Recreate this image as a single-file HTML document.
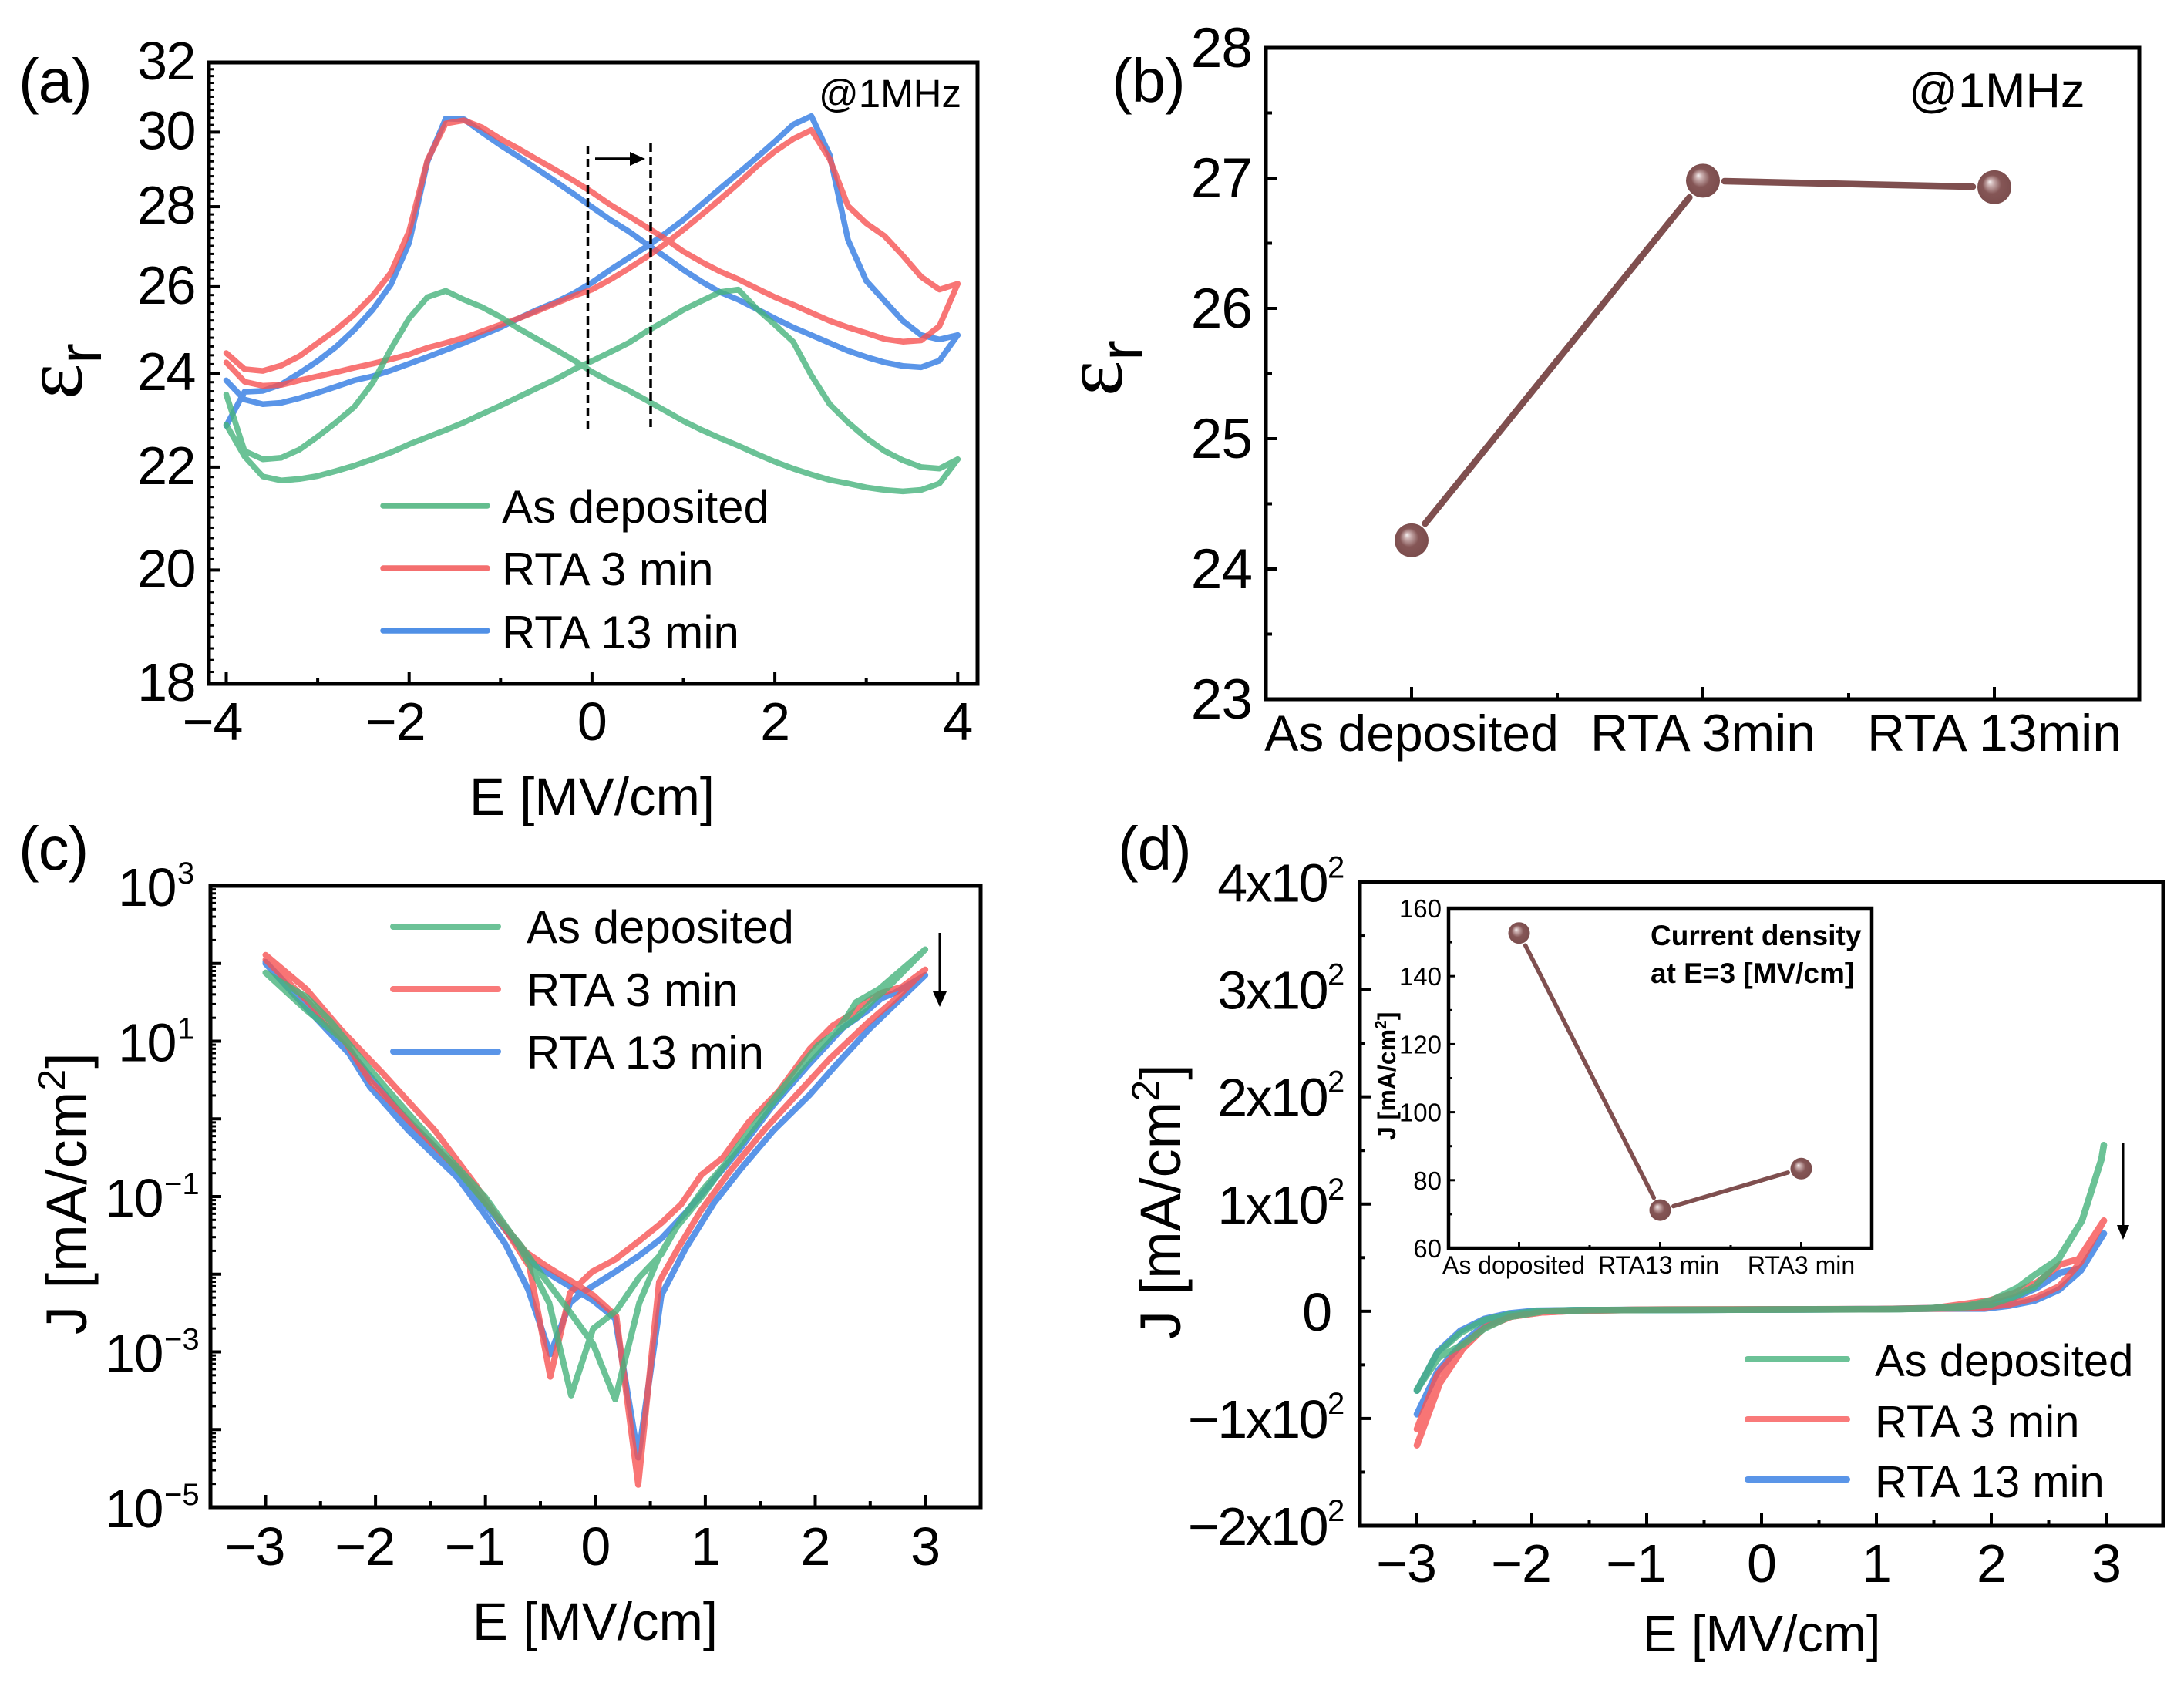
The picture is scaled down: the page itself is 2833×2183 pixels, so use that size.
<!DOCTYPE html>
<html lang="en">
<head>
<meta charset="utf-8">
<title>Dielectric and leakage characteristics</title>
<style>
html,body{margin:0;padding:0;background:#fff;}
svg{display:block;}
text{font-family:"Liberation Sans",sans-serif;fill:#000;}
.sym{font-family:"Liberation Serif",serif;}
</style>
</head>
<body>
<svg id="figure" xmlns="http://www.w3.org/2000/svg" width="2833" height="2183" viewBox="0 0 2833 2183">
<defs>
<radialGradient id="ball" cx="0.5" cy="0.5" r="0.55" fx="0.36" fy="0.34">
<stop offset="0" stop-color="#f4eeee"/>
<stop offset="0.18" stop-color="#c9adad"/>
<stop offset="0.5" stop-color="#855656"/>
<stop offset="1" stop-color="#7a4c4c"/>
</radialGradient>
</defs>
<rect width="2833" height="2183" fill="#fff"/>

<g id="panelA"></g>
<g id="panelB"></g>
<g id="panelC"></g>
<g id="panelD"></g>
<g id="panelInset"></g>

<!-- panel letters -->
<text x="24" y="132" font-size="80" letter-spacing="-1">(a)</text>
<text x="1442" y="132" font-size="80" letter-spacing="-1">(b)</text>
<text x="24" y="1128" font-size="80" letter-spacing="-1">(c)</text>
<text x="1450" y="1128" font-size="80" letter-spacing="-1">(d)</text>

<!-- panel a annotations -->
<text x="768" y="1057" font-size="69" text-anchor="middle">E [MV/cm]</text>
<text class="sym" transform="translate(106,518) rotate(-90)" font-size="110">ε<tspan font-family="Liberation Sans" font-size="80" dy="25">r</tspan></text>
<text x="1062" y="139" font-size="51">@1MHz</text>
<line x1="497" y1="656" x2="632" y2="656" stroke="#64bd8e" stroke-width="7.5" stroke-linecap="round"/>
<line x1="497" y1="737" x2="632" y2="737" stroke="#f46f6f" stroke-width="7.5" stroke-linecap="round"/>
<line x1="497" y1="818" x2="632" y2="818" stroke="#5090e6" stroke-width="7.5" stroke-linecap="round"/>
<text x="651" y="678" font-size="60">As deposited</text>
<text x="651" y="759" font-size="60">RTA 3 min</text>
<text x="651" y="841" font-size="60">RTA 13 min</text>
<line x1="762.5" y1="189" x2="762.5" y2="558" stroke="#000" stroke-width="3.5" stroke-dasharray="11 6"/>
<line x1="844" y1="186" x2="844" y2="556" stroke="#000" stroke-width="3.5" stroke-dasharray="11 6"/>
<line x1="772" y1="206" x2="820" y2="206" stroke="#000" stroke-width="3.5"/>
<polygon points="817,197 837,206 817,215" fill="#000"/>

<!-- panel b annotations -->
<text class="sym" transform="translate(1455,514) rotate(-90)" font-size="110">ε<tspan font-family="Liberation Sans" font-size="80" dy="27">r</tspan></text>
<text x="2476" y="139" font-size="63">@1MHz</text>

<!-- panel c annotations -->
<text x="772" y="2127" font-size="69" text-anchor="middle">E [MV/cm]</text>
<text transform="translate(112,1731) rotate(-90)" font-size="74" letter-spacing="1">J [mA/cm<tspan font-size="50" dy="-28">2</tspan><tspan dy="28">]</tspan></text>
<line x1="510" y1="1202" x2="646" y2="1202" stroke="#6cc297" stroke-width="8" stroke-linecap="round"/>
<line x1="510" y1="1283" x2="646" y2="1283" stroke="#f97a7a" stroke-width="8" stroke-linecap="round"/>
<line x1="510" y1="1364" x2="646" y2="1364" stroke="#5a95e8" stroke-width="8" stroke-linecap="round"/>
<text x="683" y="1223" font-size="60">As deposited</text>
<text x="683" y="1305" font-size="60">RTA 3 min</text>
<text x="683" y="1386" font-size="60">RTA 13 min</text>
<line x1="1219" y1="1210" x2="1219" y2="1290" stroke="#000" stroke-width="3"/>
<polygon points="1210,1286 1228,1286 1219,1306" fill="#000"/>

<!-- panel d annotations -->
<text x="2285" y="2142" font-size="67" text-anchor="middle">E [MV/cm]</text>
<text transform="translate(1531,1737) rotate(-90)" font-size="74">J [mA/cm<tspan font-size="50" dy="-28">2</tspan><tspan dy="28">]</tspan></text>
<line x1="2267" y1="1763" x2="2396" y2="1763" stroke="#6cc297" stroke-width="8" stroke-linecap="round"/>
<line x1="2267" y1="1841" x2="2396" y2="1841" stroke="#f97a7a" stroke-width="8" stroke-linecap="round"/>
<line x1="2267" y1="1919" x2="2396" y2="1919" stroke="#5a95e8" stroke-width="8" stroke-linecap="round"/>
<text x="2432" y="1785" font-size="58">As deposited</text>
<text x="2432" y="1864" font-size="58">RTA 3 min</text>
<text x="2432" y="1942" font-size="58">RTA 13 min</text>
<line x1="2754" y1="1482" x2="2754" y2="1592" stroke="#000" stroke-width="3"/>
<polygon points="2746,1589 2762,1589 2754,1608" fill="#000"/>

<!-- inset annotations -->
<text x="2141" y="1226" font-size="37" font-weight="bold">Current density</text>
<text x="2141" y="1275" font-size="37" font-weight="bold">at E=3 [MV/cm]</text>
<text transform="translate(1810,1479) rotate(-90)" font-size="32" font-weight="bold">J [mA/cm<tspan font-size="21" dy="-12">2</tspan><tspan dy="12">]</tspan></text>
</svg>

<script>
/* ---------- panel (a) data ---------- */
const aXTickLabels = [-4, -2, 0, 2, 4];
const aYTickLabels = [18, 20, 22, 24, 26, 28, 30, 32];
const aField = [-4,-3.8,-3.6,-3.4,-3.2,-3,-2.8,-2.6,-2.4,-2.2,-2,-1.8,-1.6,-1.4,-1.2,-1,-0.8,-0.6,-0.4,-0.2,0,0.2,0.4,0.6,0.8,1,1.2,1.4,1.6,1.8,2,2.2,2.4,2.6,2.8,3,3.2,3.4,3.6,3.8,4];

const aGreen1Eps = [23.53,22.33,22.16,22.19,22.36,22.63,22.93,23.26,23.78,24.54,25.25,25.75,25.9,25.69,25.51,25.28,25.01,24.77,24.53,24.29,24.03,23.81,23.62,23.4,23.18,22.96,22.77,22.6,22.44,22.27,22.11,21.97,21.85,21.74,21.67,21.59,21.54,21.51,21.54,21.67,22.16];
const aGreen2Eps = [22.88,22.22,21.81,21.73,21.76,21.82,21.92,22.03,22.16,22.3,22.47,22.62,22.77,22.93,23.11,23.29,23.48,23.67,23.86,24.08,24.27,24.47,24.68,24.95,25.19,25.45,25.66,25.87,25.93,25.48,25.1,24.71,23.95,23.32,22.93,22.6,22.33,22.14,22,21.97,22.16];
const aRed1Eps = [24.45,24.09,24.05,24.17,24.38,24.68,24.98,25.34,25.78,26.34,27.37,29.23,30.24,30.33,30.13,29.81,29.54,29.25,28.97,28.68,28.38,28.05,27.76,27.47,27.18,26.86,26.6,26.37,26.18,25.96,25.75,25.57,25.38,25.19,25.04,24.91,24.77,24.71,24.74,25.07,26.07];
const aRed2Eps = [24.24,23.81,23.72,23.74,23.84,23.93,24.02,24.12,24.21,24.31,24.42,24.57,24.68,24.8,24.95,25.1,25.25,25.42,25.6,25.78,25.93,26.17,26.44,26.73,27.05,27.41,27.79,28.19,28.61,29.06,29.47,29.81,30.06,29.26,28.02,27.57,27.25,26.76,26.24,25.93,26.07];
const aBlue1Eps = [22.86,23.59,23.61,23.75,24,24.27,24.59,24.98,25.45,26.05,27.08,29.19,30.38,30.36,29.99,29.64,29.32,28.99,28.66,28.33,27.99,27.66,27.37,27.04,26.73,26.41,26.12,25.87,25.69,25.47,25.25,25.04,24.86,24.68,24.5,24.36,24.24,24.16,24.13,24.28,24.86];
const aBlue2Eps = [23.84,23.42,23.32,23.35,23.45,23.57,23.7,23.84,23.93,24.06,24.21,24.36,24.52,24.68,24.86,25.04,25.25,25.45,25.63,25.84,26.1,26.41,26.7,26.99,27.31,27.66,28.06,28.47,28.88,29.3,29.74,30.21,30.45,29.37,27.15,26.14,25.66,25.19,24.86,24.76,24.86];

/* ---------- panel (b) data ---------- */
const bCategories = ["As deposited", "RTA 3min", "RTA 13min"];
const bValues = [24.22, 26.98, 26.93];
const bYTickLabels = [23, 24, 25, 26, 27, 28];

/* ---------- panel (c) data: log10 of J ---------- */
const cXTickLabels = [-3, -2, -1, 0, 1, 2, 3];
const cYExponents = [3, 1, -1, -3, -5];

const cGreen1E = [-3,-2.63,-2.4,-2.17,-1.81,-1.35,-1,-0.72,-0.6,-0.42,-0.22,-0.02,0.19,0.4,0.6,0.76,0.98,1.2,1.6,1.93,2.2,2.3,2.37,2.58,3];
const cGreen1LogJ = [1.88,1.57,1.24,0.84,0.24,-0.48,-1.01,-1.57,-1.87,-2.37,-3.56,-2.7,-2.47,-2.04,-1.74,-1.34,-0.91,-0.55,0.18,0.74,1.14,1.34,1.5,1.67,2.18];
const cGreen2E = [-3,-2.63,-2.28,-1.93,-1.46,-1,-0.69,-0.47,-0.24,-0.02,0.18,0.4,0.58,0.73,0.98,1.32,1.67,2.02,2.37,2.53,2.65,3];
const cGreen2LogJ = [1.88,1.4,1,0.44,-0.32,-1.08,-1.61,-2.04,-2.47,-2.9,-3.61,-2.37,-1.77,-1.41,-0.98,-0.31,0.34,0.94,1.3,1.53,1.68,2.18];

const cRed1E = [-3,-2.63,-2.31,-1.93,-1.46,-1.09,-0.82,-0.6,-0.41,-0.23,-0.03,0.18,0.4,0.6,0.78,0.965,1.16,1.39,1.67,1.95,2.16,2.32,2.49,2.6,2.79,3];
const cRed1LogJ = [2.11,1.67,1.14,0.58,-0.15,-0.85,-1.42,-1.9,-3.32,-2.24,-1.97,-1.81,-1.57,-1.34,-1.1,-0.72,-0.5,-0.05,0.36,0.9,1.2,1.34,1.53,1.62,1.7,1.92];
const cRed2E = [-3,-2.63,-2.28,-2.05,-1.7,-1.23,-0.88,-0.63,-0.42,-0.21,-0.02,0.19,0.39,0.58,0.75,0.96,1.22,1.55,1.85,2.13,2.48,2.72,3];
const cRed2LogJ = [2.05,1.53,1,0.49,-0.02,-0.68,-1.28,-1.72,-1.92,-2.1,-2.27,-2.54,-4.71,-2.1,-1.67,-1.18,-0.68,-0.12,0.34,0.77,1.24,1.53,1.92];

const cBlue1E = [-3,-2.63,-2.24,-2.05,-1.7,-1.25,-0.95,-0.82,-0.61,-0.41,-0.23,-0.13,0.18,0.4,0.6,0.82,0.96,1.32,1.62,1.93,2.25,2.48,2.6,2.72,3];
const cBlue1LogJ = [2,1.43,0.84,0.41,-0.15,-0.76,-1.34,-1.61,-2.2,-3.03,-2.37,-2.25,-1.97,-1.76,-1.54,-1.21,-0.98,-0.38,0.18,0.68,1.17,1.4,1.55,1.62,1.85];
const cBlue2E = [-3,-2.63,-2.24,-2.05,-1.7,-1.25,-0.95,-0.75,-0.56,-0.37,-0.02,0.18,0.39,0.6,0.82,1.08,1.32,1.62,1.95,2.2,2.48,3];
const cBlue2LogJ = [2.02,1.46,0.88,0.55,-0.05,-0.66,-1.2,-1.55,-1.87,-2.04,-2.34,-2.57,-4.36,-2.27,-1.67,-1.08,-0.65,-0.15,0.31,0.71,1.14,1.85];

/* ---------- panel (d) data ---------- */
const dXTickLabels = [-3, -2, -1, 0, 1, 2, 3];
const dYMultipliers = [4, 3, 2, 1, 0, -1, -2];

const dGreen1E = [-3,-2.83,-2.62,-2.41,-2.2,-1.96,-1.63,1.2,1.44,1.8,2,2.23,2.38,2.58,2.79,2.96,2.98];
const dGreen1J = [-74,-40,-20,-8,-3,0,1,2,2.7,5.3,10,22,34,48.5,84.5,142,155];
const dGreen2E = [-3,-2.81,-2.6,-2.41,-2.2,-1.9,-1.5,1.1,1.44,1.8,2,2.2,2.38,2.56,2.79,2.96,2.98];
const dGreen2J = [-73,-43,-31,-16,-5.4,0,1,2,2.5,4,6.5,13.7,23,43.7,84.5,142,155];

const dRed1E = [-3,-2.8,-2.6,-2.41,-2.18,-1.91,-1.63,-1,1,1.5,1.98,2.2,2.4,2.6,2.76,2.98];
const dRed1J = [-125,-67,-35,-15,-5,-1,0.5,1.5,2,3,10,17,27,43.7,48.5,84.5];
const dRed2E = [-3,-2.82,-2.63,-2.41,-2.18,-1.91,-1.6,-1,1,1.5,1.89,2.16,2.38,2.59,2.78,2.98];
const dRed2J = [-110,-59,-35,-15,-5,-1,0.5,1.5,2,2.5,3,6.5,12.5,23,46,84.5];

const dBlue1E = [-3,-2.82,-2.62,-2.41,-2.2,-1.96,-1.6,1,1.5,1.98,2.2,2.4,2.6,2.78,2.98];
const dBlue1J = [-74,-38,-18,-7,-2,0.5,1,2,3,6.5,12.5,22,36,40,72.5];
const dBlue2E = [-3,-2.82,-2.6,-2.41,-2.2,-1.96,-1.6,1,1.5,1.94,2.16,2.38,2.59,2.78,2.98];
const dBlue2J = [-96,-56,-29,-13,-4,0,1,2,2.5,2.5,5.3,10,20,38,72.5];

/* ---------- inset data ---------- */
const insetCategories = ["As doposited", "RTA13 min", "RTA3 min"];
const insetValues = [152.7, 71.2, 83.4];
const insetYTickLabels = [60, 80, 100, 120, 140, 160];

/* ---------- drawing helpers ---------- */
const SVG_NS = "http://www.w3.org/2000/svg";
const GREEN = "#47b37d", RED = "#f75353", BLUE = "#5a95e8";
const SERIES_ALPHA = 0.8;

function make(parent, tag, attrs) {
  const node = document.createElementNS(SVG_NS, tag);
  for (const key in attrs) node.setAttribute(key, attrs[key]);
  parent.appendChild(node);
  return node;
}

function minusText(v) {
  return String(v).replace("-", "\u2212");
}

function seriesGroup(parent, opacity, name) {
  const group = make(parent, "g", {opacity: opacity});
  
  
  return group;
}

function drawFrame(parent, left, top, right, bottom, width, name) {
  const frame = make(parent, "rect", {x: left, y: top, width: right - left, height: bottom - top, fill: "none", stroke: "#000", "stroke-width": width});
  
  
}

function drawTick(parent, x1, y1, x2, y2, width, name) {
  const tick = make(parent, "line", {x1: x1, y1: y1, x2: x2, y2: y2, stroke: "#000", "stroke-width": width});
  
  
}

function drawLabel(parent, x, y, size, anchor, content, name, spacing) {
  const label = make(parent, "text", {x: x, y: y, "font-size": size, "text-anchor": anchor, "letter-spacing": spacing || 0});
  label.textContent = content;
  
  
}

function drawCurve(parent, xs, ys, xAxis, yAxis, color, width, name) {
  const pts = xs.map((v, i) => xAxis(v).toFixed(1) + "," + yAxis(ys[i]).toFixed(1)).join(" ");
  const curve = make(parent, "polyline", {points: pts, fill: "none", stroke: color, "stroke-width": width, "stroke-linejoin": "round", "stroke-linecap": "round"});
  
  
}

function drawConnector(parent, x1, y1, x2, y2, gap, width, name) {
  const len = Math.hypot(x2 - x1, y2 - y1);
  const ux = (x2 - x1) / len, uy = (y2 - y1) / len;
  const seg = make(parent, "line", {x1: x1 + ux * gap, y1: y1 + uy * gap, x2: x2 - ux * gap, y2: y2 - uy * gap, stroke: "#7f4f4f", "stroke-width": width, "stroke-linecap": "round"});
  
  
}

function drawBall(parent, x, y, r, name) {
  const ball = make(parent, "circle", {cx: x, cy: y, r: r, fill: "url(#ball)"});
  
  
}

/* ---------- panel (a) ---------- */
(function () {
  const g = document.getElementById("panelA");
  const L = 271, R = 1268, T = 81, B = 887;
  const xA = e => 293.5 + (e + 4) * 118.6;
  const yA = v => T + (Math.log(32) - Math.log(v)) / (Math.log(32) - Math.log(18)) * (B - T);

  const blue = seriesGroup(g, 1, "rta-13-series");
  drawCurve(blue, aField, aBlue1Eps, xA, yA, BLUE, 7.5, "rta-13-sweep-1");
  drawCurve(blue, aField, aBlue2Eps, xA, yA, BLUE, 7.5, "rta-13-sweep-2");
  const red = seriesGroup(g, SERIES_ALPHA, "rta-3-series");
  drawCurve(red, aField, aRed1Eps, xA, yA, RED, 7.5, "rta-3-sweep-1");
  drawCurve(red, aField, aRed2Eps, xA, yA, RED, 7.5, "rta-3-sweep-2");
  const green = seriesGroup(g, SERIES_ALPHA, "as-deposited-series");
  drawCurve(green, aField, aGreen1Eps, xA, yA, GREEN, 7.5, "as-deposited-sweep-1");
  drawCurve(green, aField, aGreen2Eps, xA, yA, GREEN, 7.5, "as-deposited-sweep-2");

  for (let n = 0; n <= 70; n++) {
    const v = 18 + n * 0.2;
    const major = n % 10 === 0;
    drawTick(g, L, yA(v), L + (major ? 14 : 7), yA(v), major ? 4 : 3, "a-y-tick");
  }
  aYTickLabels.forEach(v => drawLabel(g, 253, yA(v) + 22, 70, "end", String(v), "a-y-tick-label", -1.5));
  for (let e = -4; e <= 4; e++) {
    const major = e % 2 === 0;
    drawTick(g, xA(e), B, xA(e), B - (major ? 16 : 8), 4, "a-x-tick");
  }
  aXTickLabels.forEach(e => drawLabel(g, xA(e) - (e < 0 ? 18 : 0), 960, 70, "middle", minusText(e), "a-x-tick-label", -1));
  drawFrame(g, L, T, R, B, 5, "a-plot-frame");
})();

/* ---------- panel (b) ---------- */
(function () {
  const g = document.getElementById("panelB");
  const L = 1642, R = 2775, T = 62, B = 907;
  const xB = i => 1831 + i * 378;
  const yB = v => B - (v - 23) * (B - T) / 5;

  for (let i = 0; i < bValues.length - 1; i++) {
    drawConnector(g, xB(i), yB(bValues[i]), xB(i + 1), yB(bValues[i + 1]), 28, 8.5, "b-connector-line");
  }
  for (let i = 0; i < bValues.length; i++) {
    drawBall(g, xB(i), yB(bValues[i]), 22, "b-data-point");
  }
  for (let n = 0; n <= 10; n++) {
    const v = 23 + n * 0.5;
    const major = n % 2 === 0;
    drawTick(g, L, yB(v), L + (major ? 14 : 8), yB(v), 4, "b-y-tick");
  }
  bYTickLabels.forEach(v => drawLabel(g, 1624, yB(v) + 25, 73, "end", String(v), "b-y-tick-label", -1));
  for (let n = 0; n <= 4; n++) {
    const major = n % 2 === 0;
    drawTick(g, xB(n / 2), B, xB(n / 2), B - (major ? 16 : 8), 4, "b-x-tick");
  }
  bCategories.forEach((c, i) => drawLabel(g, xB(i), 974, i === 0 ? 66 : 68, "middle", c, "b-x-tick-label"));
  drawFrame(g, L, T, R, B, 5, "b-plot-frame");
})();

/* ---------- panel (c) ---------- */
(function () {
  const g = document.getElementById("panelC");
  const L = 273, R = 1272, T = 1149, B = 1955;
  const xC = e => 344.5 + (e + 3) * 142.6;
  const yC = v => T + (3 - v) * (B - T) / 8;

  const blue = seriesGroup(g, 1, "rta-13-series");
  drawCurve(blue, cBlue1E, cBlue1LogJ, xC, yC, BLUE, 8, "rta-13-sweep-1");
  drawCurve(blue, cBlue2E, cBlue2LogJ, xC, yC, BLUE, 8, "rta-13-sweep-2");
  const red = seriesGroup(g, SERIES_ALPHA, "rta-3-series");
  drawCurve(red, cRed1E, cRed1LogJ, xC, yC, RED, 8, "rta-3-sweep-1");
  drawCurve(red, cRed2E, cRed2LogJ, xC, yC, RED, 8, "rta-3-sweep-2");
  const green = seriesGroup(g, SERIES_ALPHA, "as-deposited-series");
  drawCurve(green, cGreen1E, cGreen1LogJ, xC, yC, GREEN, 8, "as-deposited-sweep-1");
  drawCurve(green, cGreen2E, cGreen2LogJ, xC, yC, GREEN, 8, "as-deposited-sweep-2");

  for (let d = -5; d <= 3; d++) {
    drawTick(g, L, yC(d), L + 14, yC(d), 4, "c-y-major-tick");
    if (d < 3) {
      for (let m = 2; m <= 9; m++) {
        drawTick(g, L, yC(d + Math.log10(m)), L + 7, yC(d + Math.log10(m)), 3, "c-y-minor-tick");
      }
    }
  }
  cYExponents.forEach(p => {
    const base = p < 0 ? 211 : 228;
    drawLabel(g, base, yC(p) + 26, 70, "end", "10", "c-y-tick-label", -1.5);
    drawLabel(g, base + 2, yC(p) - 3, 40, "start", minusText(p), "c-y-tick-exponent");
  });
  for (let n = -6; n <= 6; n++) {
    const major = n % 2 === 0;
    drawTick(g, xC(n / 2), B, xC(n / 2), B - (major ? 16 : 8), 4, "c-x-tick");
  }
  cXTickLabels.forEach(e => drawLabel(g, xC(e) - (e < 0 ? 14 : 0), 2030, 70, "middle", minusText(e), "c-x-tick-label", -1));
  drawFrame(g, L, T, R, B, 5, "c-plot-frame");
})();

/* ---------- panel (d) ---------- */
(function () {
  const g = document.getElementById("panelD");
  const L = 1764, R = 2806, T = 1144.5, B = 1979;
  const xD = e => 2285 + e * 149;
  const yD = v => B - (v + 200) * (B - T) / 600;

  const blue = seriesGroup(g, 1, "rta-13-series");
  drawCurve(blue, dBlue1E, dBlue1J, xD, yD, BLUE, 8.5, "rta-13-sweep-1");
  drawCurve(blue, dBlue2E, dBlue2J, xD, yD, BLUE, 8.5, "rta-13-sweep-2");
  const red = seriesGroup(g, SERIES_ALPHA, "rta-3-series");
  drawCurve(red, dRed1E, dRed1J, xD, yD, RED, 8.5, "rta-3-sweep-1");
  drawCurve(red, dRed2E, dRed2J, xD, yD, RED, 8.5, "rta-3-sweep-2");
  const green = seriesGroup(g, SERIES_ALPHA, "as-deposited-series");
  drawCurve(green, dGreen1E, dGreen1J, xD, yD, GREEN, 8.5, "as-deposited-sweep-1");
  drawCurve(green, dGreen2E, dGreen2J, xD, yD, GREEN, 8.5, "as-deposited-sweep-2");

  for (let n = -4; n <= 8; n++) {
    const v = n * 50;
    const major = n % 2 === 0;
    drawTick(g, L, yD(v), L + (major ? 14 : 7), yD(v), 4, "d-y-tick");
  }
  dYMultipliers.forEach(m => {
    const y = yD(m * 100);
    if (m === 0) {
      drawLabel(g, 1728, y + 25, 70, "end", "0", "d-y-tick-label");
    } else {
      drawLabel(g, 1721, y + 25, 70, "end", minusText(m) + "x10", "d-y-tick-label", -2.5);
      drawLabel(g, 1722, y - 6, 40, "start", "2", "d-y-tick-exponent");
    }
  });
  for (let n = -6; n <= 6; n++) {
    const major = n % 2 === 0;
    drawTick(g, xD(n / 2), B, xD(n / 2), B - (major ? 16 : 8), 4, "d-x-tick");
  }
  dXTickLabels.forEach(e => drawLabel(g, xD(e) - (e < 0 ? 14 : 0), 2052, 70, "middle", minusText(e), "d-x-tick-label", -1));
  drawFrame(g, L, T, R, B, 5, "d-plot-frame");
})();

/* ---------- inset ---------- */
(function () {
  const g = document.getElementById("panelInset");
  const L = 1879, R = 2428, T = 1178, B = 1619;
  const xI = i => 1970.5 + i * 183;
  const yI = v => B - (v - 60) * (B - T) / 100;

  for (let i = 0; i < insetValues.length - 1; i++) {
    drawConnector(g, xI(i), yI(insetValues[i]), xI(i + 1), yI(insetValues[i + 1]), 18, 5.5, "inset-connector-line");
  }
  for (let i = 0; i < insetValues.length; i++) {
    drawBall(g, xI(i), yI(insetValues[i]), 14, "inset-data-point");
  }
  for (let n = 0; n <= 10; n++) {
    const v = 60 + n * 10;
    const major = n % 2 === 0;
    drawTick(g, L, yI(v), L + (major ? 8 : 4), yI(v), 3, "inset-y-tick");
  }
  insetYTickLabels.forEach(v => drawLabel(g, 1870, yI(v) + 12, 33, "end", String(v), "inset-y-tick-label"));
  for (let n = 0; n <= 4; n++) {
    const major = n % 2 === 0;
    drawTick(g, xI(n / 2), B, xI(n / 2), B - (major ? 8 : 4), 3, "inset-x-tick");
  }
  insetCategories.forEach((c, i) => drawLabel(g, xI(i) - (i === 0 ? 7 : 0) - (i === 1 ? 2 : 0), 1652, 32, "middle", c, "inset-x-tick-label"));
  drawFrame(g, L, T, R, B, 4.5, "inset-plot-frame");
})();
</script>
</body>
</html>
